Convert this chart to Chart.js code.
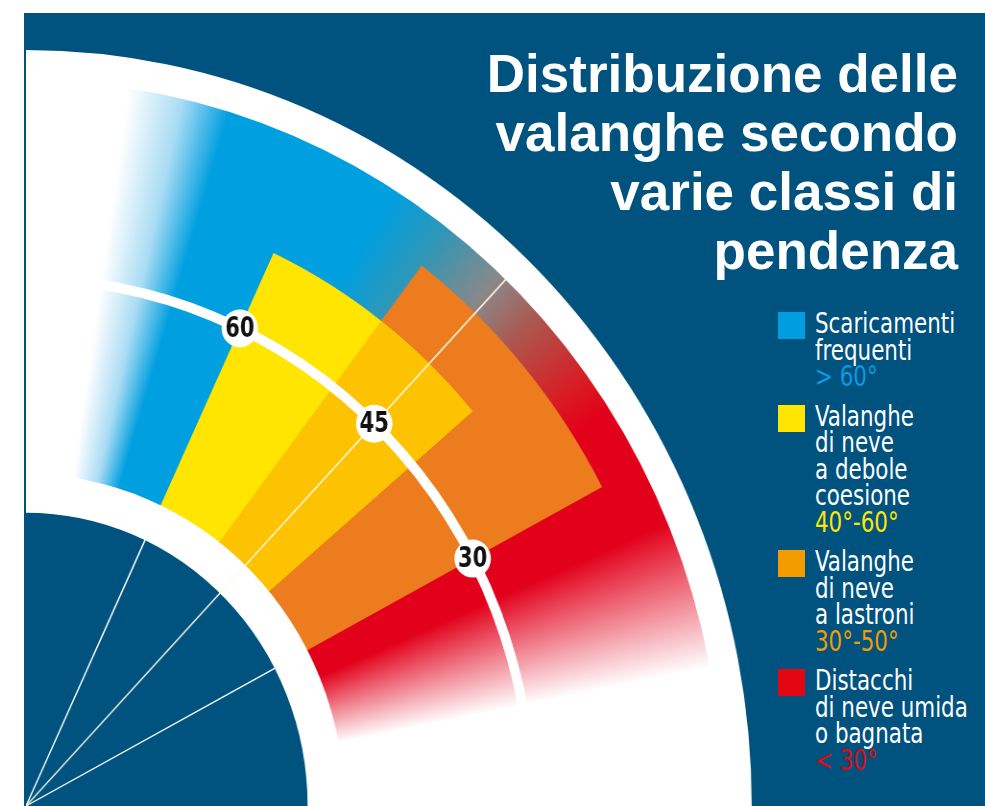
<!DOCTYPE html>
<html lang="it">
<head>
<meta charset="utf-8">
<title>Distribuzione delle valanghe secondo varie classi di pendenza</title>
<script src="https://cdn.jsdelivr.net/npm/chart.js@4.4.1/dist/chart.umd.min.js"></script>
<style>
  html, body { margin: 0; padding: 0; background: #fff; overflow: hidden; }
  body { width: 985px; height: 806px; position: relative; }
  #pannello { position: absolute; left: 24px; top: 13px; width: 961px; height: 793px; background: #00527f; overflow: hidden; }
  #ritaglio { position: absolute; left: 2px; top: 0; width: 959px; height: 793px; overflow: hidden; }
  #grafico { position: absolute; left: -756px; top: 37px; transform: scaleX(0.96); transform-origin: 756px 756px; }
  h1 { position: absolute; right: 27px; top: 44px; margin: 0; font: bold 53px/59px 'Liberation Sans', Arial, sans-serif; color: #fff; text-align: right; }
  #legenda { position: absolute; left: 778px; top: 311px; }
  .voce { position: relative; padding-left: 37px; margin-bottom: 13px; font: 28px/26.5px 'DejaVu Sans Condensed', 'Liberation Sans', sans-serif; color: #fff; }
  .voce .q { position: absolute; left: 0; top: 1px; width: 27px; height: 27px; }
  .voce .t { display: inline-block; white-space: nowrap; transform: scaleX(0.85); transform-origin: 0 0; }
</style>
</head>
<body>
<div id="pannello">
  <div id="ritaglio"><canvas id="grafico" width="1512" height="1512"></canvas></div>
</div>
<h1>Distribuzione delle<br>valanghe secondo<br>varie classi di<br>pendenza</h1>
<div id="legenda"></div>
<script>
const classi = ['Scaricamenti\nfrequenti', 'Valanghe\ndi neve\na debole\ncoesione', 'Valanghe\ndi neve\na lastroni', 'Distacchi\ndi neve umida\no bagnata'];
const intervalli = ['> 60°', '40°-60°', '30°-50°', '< 30°'];
const pendenzaDa = [60, 40, 30, 0];
const pendenzaA = [90, 60, 50, 30];
const etichetteTick = [60, 45, 30];
// estensione radiale: 100 = bordo del disco bianco
const raggioFascia = 96;
const raggioDebole = 80.7;
const raggioLastroni = 89.9;
const raggioArco = 69.7;
const raggioAnello = 43.9;
const raggioNucleo = 38.8;

const coloriClassi = ['#009ee0', '#ffe600', '#f39c00', '#e30613'];
const coloriTesto = ['#0a9be0', '#ffe600', '#f39c00', '#e30613'];

// pendenza -> angolo disegnato (gradi dall'orizzontale), scala del disegno originale
const angolo = p => p * 37 / 30 - 9;

// costruisce un dataset polarArea da settori {da, a, r, colore, bordo, colBordo} in gradi disegnati
function settori(lista) {
  const data = [], angle = [], bg = [], bw = [], bc = [];
  let cursore = 90;
  lista.slice().sort((x, y) => y.a - x.a).forEach(s => {
    if (cursore - s.a > 1e-6) {
      data.push(0); angle.push(cursore - s.a); bg.push('rgba(0,0,0,0)'); bw.push(0); bc.push('rgba(0,0,0,0)');
    }
    data.push(s.r); angle.push(s.a - s.da); bg.push(s.colore); bw.push(s.bordo || 0); bc.push(s.colBordo || 'rgba(0,0,0,0)');
    cursore = s.da;
  });
  return { data, angle, backgroundColor: bg, borderWidth: bw, borderColor: bc };
}

const sfumatura = [
  [90, '#ffffff'], [81.5, '#ffffff'], [77, '#a9dcf4'], [73, '#009fe0'], [58, '#009fe0'],
  [53, '#2f97b8'], [47, '#8a8888'], [42, '#b0524a'], [36, '#da1a22'], [33, '#e2001a'],
  [23, '#e2001a'], [11, '#ffffff'], [0, '#ffffff'],
];

function coloreFascia(c) {
  const s = c.chart.scales.r;
  if (!s || s.xCenter == null) return '#009fe0';
  const g = c.chart.ctx.createConicGradient(-Math.PI / 2, s.xCenter, s.yCenter);
  sfumatura.forEach(([deg, col]) => g.addColorStop((90 - deg) / 360, col));
  g.addColorStop(1, '#ffffff');
  return g;
}

const linee = settori(etichetteTick.map(p => {
  const lunga = p === 45;
  return { da: angolo(p) - 0.01, a: angolo(p) + 0.01, r: lunga ? raggioFascia : raggioNucleo,
    colore: lunga ? 'rgba(255,248,230,0.85)' : '#ffffff', bordo: lunga ? 1.6 : 1.4,
    colBordo: lunga ? 'rgba(255,248,230,0.85)' : '#ffffff' };
}));
const nucleo = settori([{ da: 0, a: 90, r: raggioNucleo, colore: '#00527f' }]);
const anello = settori([{ da: 0, a: 90, r: raggioAnello, colore: '#ffffff' }]);
const sovrapposizione = settori([{ da: angolo(pendenzaDa[1]), a: angolo(pendenzaA[2]), r: raggioDebole, colore: '#fdc300' }]);
const debole = settori([{ da: angolo(pendenzaDa[1]), a: angolo(pendenzaA[1]), r: raggioDebole, colore: '#ffe500' }]);
const lastroni = settori([{ da: angolo(pendenzaDa[2]), a: angolo(pendenzaA[2]), r: raggioLastroni, colore: '#ec7c1e' }]);
const fascia = settori([{ da: 0, a: 90, r: raggioFascia, colore: '#009fe0' }]);
fascia.backgroundColor = coloreFascia;
const disco = settori([{ da: 0, a: 90, r: 100, colore: '#ffffff' }]);

const etichettePlugin = {
  id: 'etichetteAngoli',
  afterDraw(chart) {
    const s = chart.scales.r;
    const ctx = chart.ctx;
    const d = s.getDistanceFromCenterForValue(raggioArco);
    etichetteTick.forEach(p => {
      const a = angolo(p) * Math.PI / 180;
      const x = s.xCenter + d * Math.cos(a);
      const y = s.yCenter - d * Math.sin(a);
      ctx.save();
      ctx.beginPath();
      ctx.arc(x, y, 19, 0, 2 * Math.PI);
      ctx.fillStyle = '#ffffff';
      ctx.fill();
      ctx.translate(x, y);
      ctx.scale(0.84, 1);
      ctx.fillStyle = '#111111';
      ctx.font = "bold 29px 'DejaVu Sans Condensed', 'Liberation Sans', sans-serif";
      ctx.textAlign = 'center';
      ctx.textBaseline = 'middle';
      ctx.fillText(String(p), 0, 1);
      ctx.restore();
    });
  }
};

document.addEventListener('DOMContentLoaded', () => {
  // legenda
  const leg = document.getElementById('legenda');
  classi.forEach((c, i) => {
    const v = document.createElement('div');
    v.className = 'voce';
    v.innerHTML = '<span class="q" style="background:' + coloriClassi[i] + '"></span><span class="t">' +
      c.split('\n').join('<br>') + '<br><span style="color:' + coloriTesto[i] + '">' + intervalli[i] + '</span></span>';
    leg.appendChild(v);
  });

  const lista = [linee, nucleo, anello, sovrapposizione, debole, lastroni, fascia, disco];
  new Chart(document.getElementById('grafico'), {
    type: 'polarArea',
    data: {
      labels: lista[0].data.map((_, i) => String(i)),
      datasets: lista.map((d, i) => Object.assign({ order: i }, d)),
    },
    options: {
      responsive: false,
      animation: false,
      plugins: { legend: { display: false }, tooltip: { enabled: false } },
      scales: {
        r: {
          min: 0, max: 100,
          ticks: { display: false },
          grid: { circular: true, color: '#ffffff', lineWidth: 10, z: 1 },
          angleLines: { display: false },
          pointLabels: { display: false },
          afterBuildTicks: (s) => { s.ticks = [{ value: 0 }, { value: raggioArco }]; },
        },
      },
    },
    plugins: [etichettePlugin],
  });
});
</script>
</body>
</html>
